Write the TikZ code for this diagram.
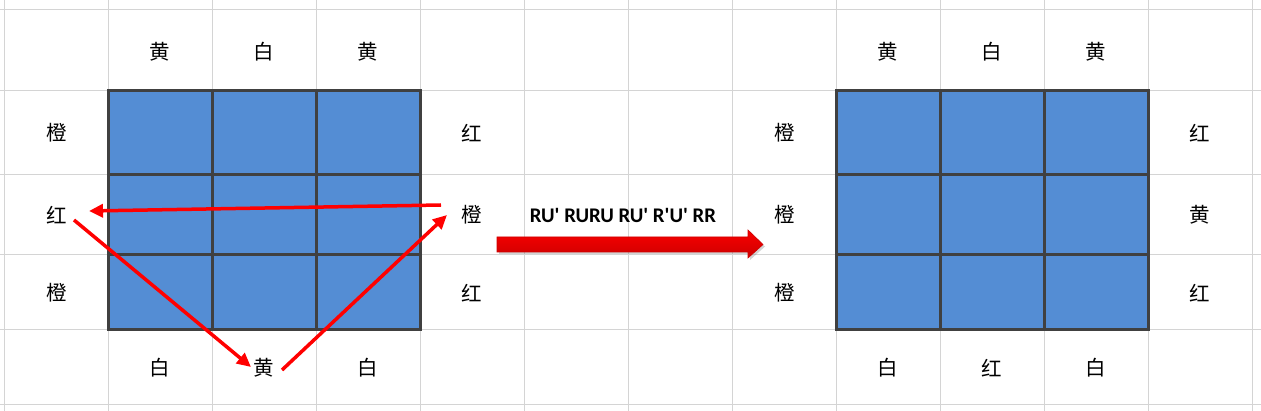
\documentclass[tikz,border=0pt]{standalone}
\usepackage{fontspec}
\newfontfamily\cjk{Noto Sans CJK SC}
\newfontfamily\movefont[Ligatures=TeXOff]{Carlito}
\usetikzlibrary{arrows.meta,shadows}

\definecolor{cellblue}{RGB}{84,141,212}
\definecolor{cubeedge}{RGB}{64,64,64}
\definecolor{sheetline}{RGB}{212,212,212}
\definecolor{turnred}{RGB}{255,0,0}
\definecolor{bigtop}{RGB}{250,0,0}
\definecolor{bigmid}{RGB}{255,60,60}
\definecolor{bigbot}{RGB}{205,0,0}

\tikzset{
  face/.style={font=\cjk\fontsize{20.5}{20.5}\selectfont, inner sep=0pt},
  turn/.style={draw=turnred, line width=3.5pt, -{Triangle[length=14pt,width=13pt]}},
  cubeline/.style={draw=cubeedge, line width=3pt},
}

\begin{document}
\begin{tikzpicture}[x=1pt,y=-1pt]
    \useasboundingbox (0,0) rectangle (1261,411);

    % Sheet grid
    \foreach \gx in {4,108,...,1252}
        \draw[sheetline, line width=1pt] (\gx,0) -- (\gx,411);
    \foreach \gy in {10,91,175,255,330,405}
        \draw[sheetline, line width=1pt] (0,\gy) -- (1261,\gy);

    % Cube faces
    \draw[cubeline, fill=cellblue] (108,91) rectangle (420,330);
    \draw[cubeline] (212,91) -- (212,330) (316,91) -- (316,330)
        (108,175) -- (420,175) (108,255) -- (420,255);
    \draw[cubeline, fill=cellblue] (836,91) rectangle (1148,330);
    \draw[cubeline] (940,91) -- (940,330) (1044,91) -- (1044,330)
        (836,175) -- (1148,175) (836,255) -- (1148,255);

    % Stickers, before
    \node[face] (aT1) at (160,52) {黄};
    \node[face] (aT2) at (264,52) {白};
    \node[face] (aT3) at (368,52) {黄};
    \node[face] (aL1) at (57,133) {橙};
    \node[face] (aL2) at (57,215) {红};
    \node[face] (aL3) at (57,293) {橙};
    \node[face] (aR1) at (472,133) {红};
    \node[face] (aR2) at (472,215) {橙};
    \node[face] (aR3) at (472,293) {红};
    \node[face] (aB1) at (160,368) {白};
    \node[face] (aB2) at (264,368) {黄};
    \node[face] (aB3) at (368,368) {白};

    % Stickers, after
    \node[face] (bT1) at (888,52) {黄};
    \node[face] (bT2) at (992,52) {白};
    \node[face] (bT3) at (1096,52) {黄};
    \node[face] (bL1) at (785,133) {橙};
    \node[face] (bL2) at (785,215) {橙};
    \node[face] (bL3) at (785,293) {橙};
    \node[face] (bR1) at (1200,133) {红};
    \node[face] (bR2) at (1200,215) {黄};
    \node[face] (bR3) at (1200,293) {红};
    \node[face] (bB1) at (888,368) {白};
    \node[face] (bB2) at (992,368) {红};
    \node[face] (bB3) at (1096,368) {白};

    % Cycle of the three edges
    \coordinate (fromR) at (441,205);
    \coordinate (toL) at (89,211);
    \coordinate (fromL) at (74,220);
    \coordinate (toB) at (251,367);
    \coordinate (fromB) at (282,370);
    \coordinate (toR) at (447,215);
    \draw[turn] (fromR) -- (toL);
    \draw[turn] (fromL) -- (toB);
    \draw[turn] (fromB) -- (toR);

    % Move sequence
    \node[font=\movefont\bfseries\fontsize{20.8}{21}\selectfont] (moves) at (623,215) {RU' RURU RU' R'U' RR};
    \draw[draw=bigbot, line width=0.6pt, top color=bigtop, middle color=bigmid, bottom color=bigbot,
          drop shadow={shadow xshift=2pt, shadow yshift=-2pt, opacity=0.35}]
        (497,237) -- (748,237) -- (748,230) -- (763,244.5) -- (748,258) -- (748,252) -- (497,252) -- cycle;
\end{tikzpicture}
\end{document}
